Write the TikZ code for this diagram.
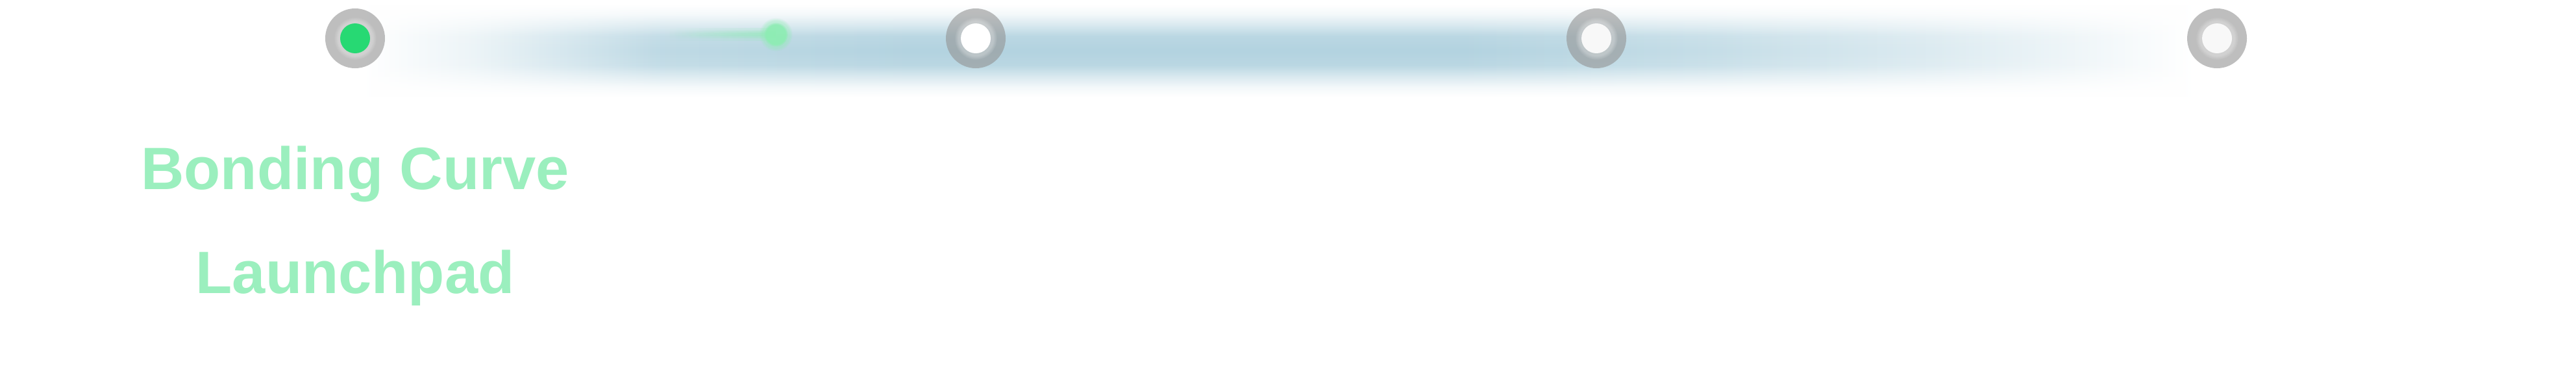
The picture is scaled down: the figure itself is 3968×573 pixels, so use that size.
\documentclass[tikz,border=0pt]{standalone}
\usepackage{fontspec}
\setmainfont{Liberation Sans}
\usepackage{tikz}
\usetikzlibrary{fadings}

\definecolor{bandblue}{HTML}{B3D3E0}
\definecolor{ringgray}{HTML}{939393}
\definecolor{coregreen}{HTML}{27D973}
\definecolor{coregray}{HTML}{F8F8F8}
\definecolor{trailgreen}{HTML}{8DEDB3}
\definecolor{labelgreen}{HTML}{9BEFBE}

\pgfdeclarehorizontalshading{bandshade}{100bp}{color(0bp)=(white); color(25bp)=(white);
  color(28bp)=(bandblue!25); color(33bp)=(bandblue!85); color(40bp)=(bandblue);
  color(55bp)=(bandblue); color(62bp)=(bandblue!75); color(68bp)=(bandblue!45);
  color(72bp)=(bandblue!20); color(75bp)=(white); color(100bp)=(white)}
\pgfdeclareverticalshading{bandfadeshade}{100bp}{color(0bp)=(pgftransparent!100);
  color(25bp)=(pgftransparent!100); color(30bp)=(pgftransparent!85);
  color(36bp)=(pgftransparent!50); color(42bp)=(pgftransparent!10);
  color(50bp)=(pgftransparent!0); color(58bp)=(pgftransparent!10);
  color(64bp)=(pgftransparent!50); color(70bp)=(pgftransparent!85);
  color(75bp)=(pgftransparent!100); color(100bp)=(pgftransparent!100)}
\pgfdeclarefading{bandfade}{\pgfuseshading{bandfadeshade}}

\tikzset{
  stagering/.style={circle, minimum size=9.2pt, inner sep=0pt, fill=ringgray, fill opacity=.6},
  stagedot/.style={circle, minimum size=4.6pt, inner sep=0pt},
  trailhead/.style={circle, minimum size=3.2pt, inner sep=0pt},
  stagelabel/.style={anchor=base, text=labelgreen, inner sep=0pt,
    font=\bfseries\fontsize{9.2}{11}\selectfont}
}

\begin{document}
\begin{tikzpicture}[x=0.1pt, y=-0.1pt]
        \fill[white] (0,0) rectangle (3968,573);
        \useasboundingbox (0,0) rectangle (3968,573);
        % glow behind the stages
        \shade[shading=bandshade, path fading=bandfade] (560,8) rectangle (3380,148);
        % progress trail
        \coordinate (trailstart) at (1030,53);
        \node[trailhead] (th) at (1195,53) {};
        \fill[trailgreen, opacity=.2, path fading=west] ([yshift=1pt]trailstart) rectangle ([yshift=-1pt]th.center);
        \fill[trailgreen, opacity=.3, path fading=west] ([yshift=.6pt]trailstart) rectangle ([yshift=-.6pt]th.center);
        \fill[trailgreen, opacity=.35, path fading=west] ([yshift=.3pt]trailstart) rectangle ([yshift=-.3pt]th.center);
        \fill[trailgreen, opacity=.4, path fading=circle with fuzzy edge 20 percent] (th) circle (2.6pt);
        \fill[trailgreen, opacity=.9, path fading=circle with fuzzy edge 20 percent] (th) circle (1.9pt);
        % stages
        \foreach \i/\x/\core in {1/547/coregreen, 2/1503/white, 3/2459/coregray, 4/3415/coregray} {
                \node[stagering] (s\i) at (\x,59) {};
                \fill[white, opacity=.3, path fading=circle with fuzzy edge 20 percent] (s\i) circle (3.3pt);
                \node[stagedot, fill=\core] (d\i) at (s\i) {};
        }
        \node[stagelabel] (bc) at (547,291) {Bonding Curve};
        \node[stagelabel] (lp) at (547,451) {Launchpad};
\end{tikzpicture}
\end{document}
